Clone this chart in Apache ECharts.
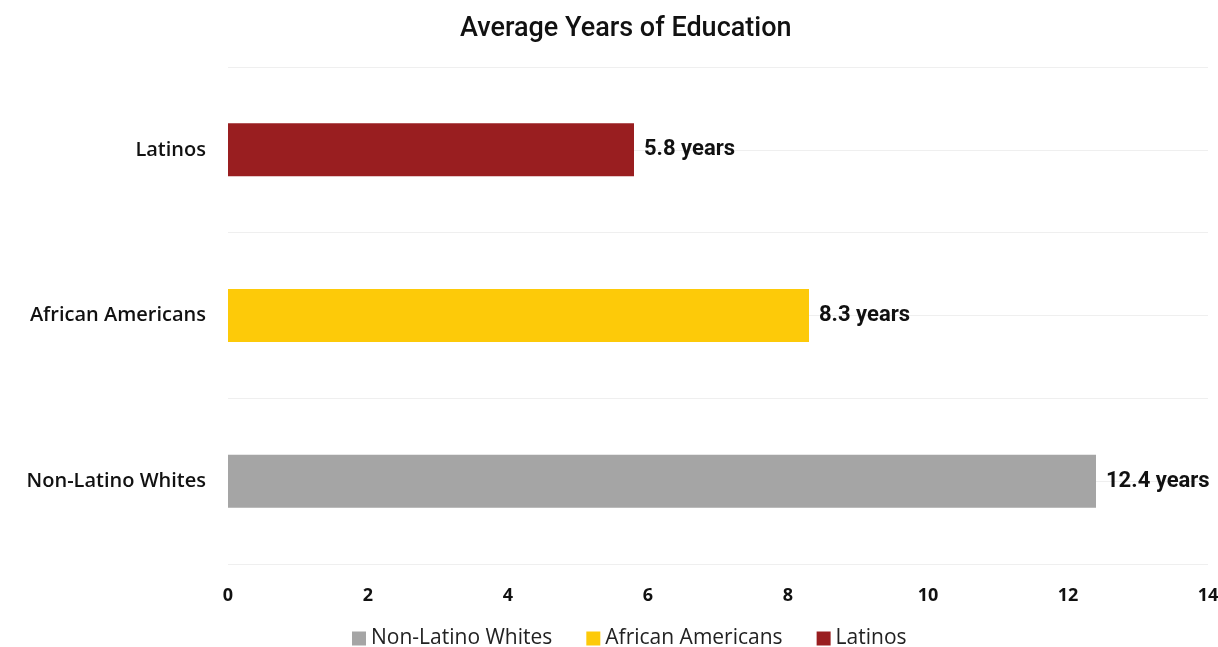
<!DOCTYPE html>
<html>
<head>
<meta charset="utf-8">
<script src="https://cdn.jsdelivr.net/npm/echarts@6/dist/echarts.min.js"></script>
<style>
html,body{margin:0;padding:0;background:#fff;overflow:hidden;}
#chart{width:1218px;height:647px;}
</style>
</head>
<body>
<div id="chart"></div>
<script>
var categories = ['Non-Latino Whites', 'African Americans', 'Latinos'];
var seriesNames = ['Non-Latino Whites', 'African Americans', 'Latinos'];
var whitesData = [12.4, null, null];
var africanData = [null, 8.3, null];
var latinoData = [null, null, 5.8];
var xTicks = [0, 2, 4, 6, 8, 10, 12, 14];
var colors = ['#a5a5a5', '#fdca09', '#991e20'];

var myChart = echarts.init(document.getElementById('chart'));

//每个系列的柱子
function makeBar(name, data, color)
{
	return {
		name: name,
		type: 'bar',
		data: data,
		barWidth: 53,
		barGap: '-100%',
		itemStyle: {color: color},
		label: {
			show: true,
			position: 'right',
			distance: 10,
			formatter: '{c} years',
			color: '#111',
			fontFamily: 'Roboto',
			fontWeight: 'bold',
			fontSize: 22
		}
	};
}

var option = {
	backgroundColor: '#fff',
	animation: false,
	title: {
		text: 'Average Years of Education',
		left: 455,
		top: 11,
		textStyle: {
			fontFamily: 'Roboto',
			fontWeight: 500,
			fontSize: 27,
			color: '#111'
		}
	},
	legend: {
		bottom: -7,
		left: 347,
		itemWidth: 14,
		itemHeight: 14,
		itemGap: 34,
		icon: 'rect',
		data: seriesNames,
		textStyle: {
			fontFamily: 'Open Sans',
			fontSize: 21,
			color: '#222'
		}
	},
	grid: {
		left: 228,
		right: 10,
		top: 67,
		bottom: 83,
		containLabel: false,
		outerBoundsMode: 'none'
	},
	xAxis: {
		type: 'value',
		min: xTicks[0],
		max: xTicks[xTicks.length - 1],
		interval: 2,
		axisLine: {show: false},
		axisTick: {show: false},
		splitLine: {show: false},
		axisLabel: {
			margin: 23,
			color: '#111',
			fontFamily: 'Open Sans',
			fontWeight: 'bold',
			fontSize: 18
		}
	},
	yAxis: [{
		type: 'category',
		data: categories,
		axisLine: {show: false},
		axisTick: {show: false},
		splitLine: {show: false},
		axisLabel: {
			margin: 22,
			color: '#111',
			fontFamily: 'Open Sans',
			fontWeight: 600,
			fontSize: 20
		}
	}, {
		// 只用来画网格线
		type: 'value',
		min: 0,
		max: 6,
		interval: 1,
		position: 'left',
		axisLine: {show: false},
		axisTick: {show: false},
		axisLabel: {show: false},
		splitLine: {show: true, lineStyle: {color: '#efefef', width: 1}}
	}],
	series: [
		makeBar(seriesNames[0], whitesData, colors[0]),
		makeBar(seriesNames[1], africanData, colors[1]),
		makeBar(seriesNames[2], latinoData, colors[2])
	]
};

myChart.setOption(option);
window.onresize = myChart.resize;
</script>
</body>
</html>
